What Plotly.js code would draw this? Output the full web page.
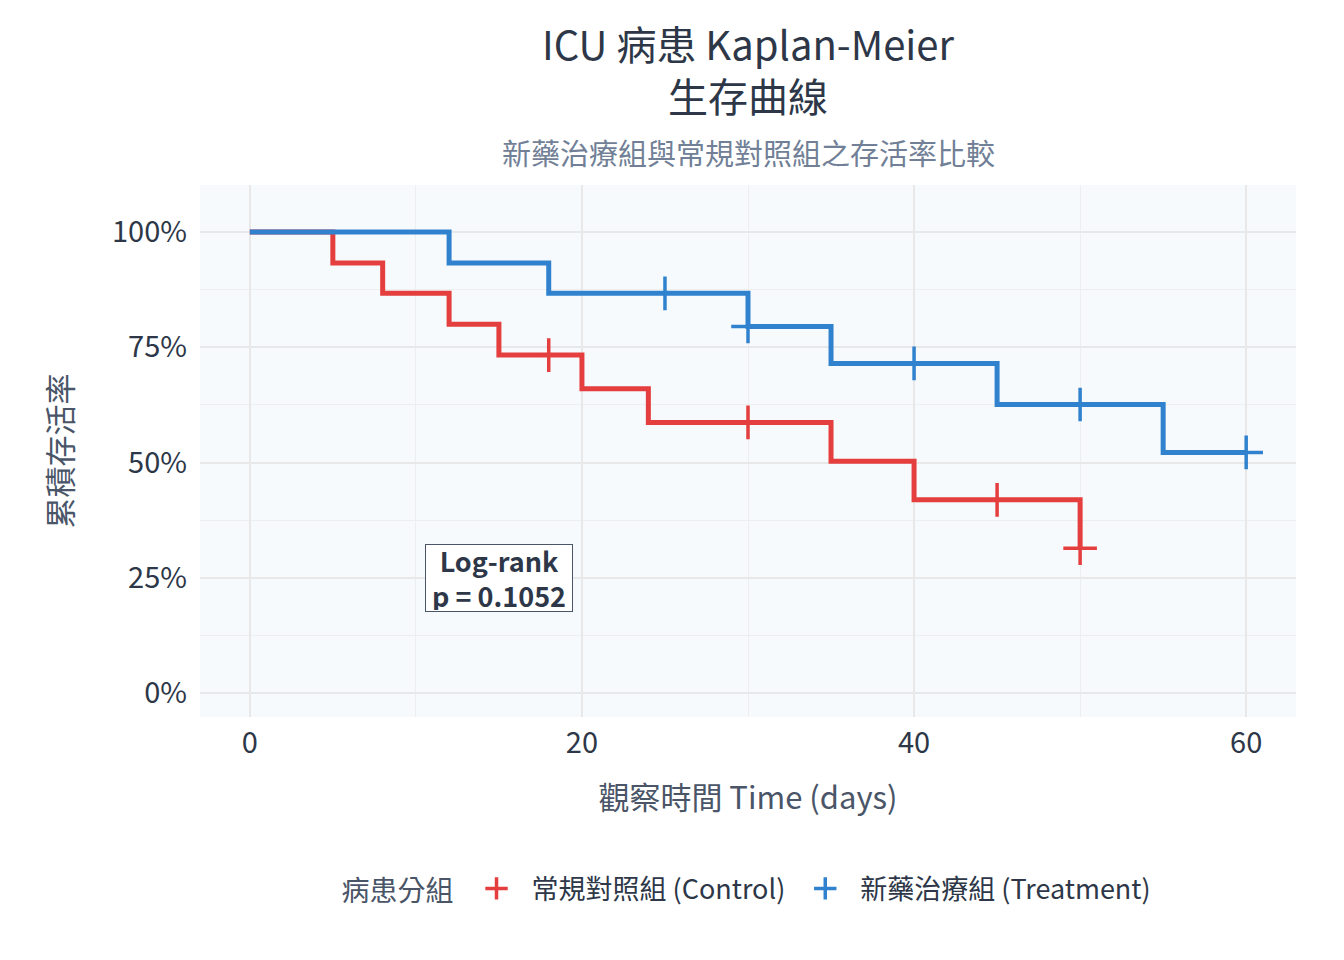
<!DOCTYPE html>
<html>
<head>
<meta charset="utf-8">
<script src="https://cdn.plot.ly/plotly-3.0.1.min.js"></script>
<style>
  html, body { margin: 0; padding: 0; background: #fff; }
  #plot { width: 1344px; height: 960px; }
</style>
</head>
<body>
<div id="plot"></div>
<script>
// Kaplan-Meier step points (days, survival)
var ctrlTime = [0, 5, 8, 12, 15, 20, 24, 35, 40, 50];
var ctrlSurv = [1.0, 0.933, 0.867, 0.800, 0.733, 0.660, 0.587, 0.503, 0.419, 0.314];
var ctrlCensorTime = [18, 30, 45, 50];
var ctrlCensorSurv = [0.733, 0.587, 0.419, 0.314];

var trtTime = [0, 12, 18, 30, 35, 45, 55, 60];
var trtSurv = [1.0, 0.933, 0.867, 0.795, 0.715, 0.626, 0.522, 0.522];
var trtCensorTime = [25, 30, 40, 50, 60];
var trtCensorSurv = [0.867, 0.795, 0.715, 0.626, 0.522];

var groupNames = ['常規對照組 (Control)', '新藥治療組 (Treatment)'];
var groupColors = ['#e53e3e', '#3182ce'];

var FONT = '"Noto Sans CJK TC", "Noto Sans", sans-serif';

function stepTrace(x, y, i) {
  return {
    type: 'scatter', mode: 'lines', x: x, y: y,
    line: {shape: 'hv', color: groupColors[i], width: 5},
    name: groupNames[i], legendgroup: 'g' + i, showlegend: false,
    hoverinfo: 'skip'
  };
}
function censorTrace(x, y, i) {
  return {
    type: 'scatter', mode: 'markers', x: x, y: y,
    marker: {symbol: 'cross-thin', size: 24, color: groupColors[i],
             line: {color: groupColors[i], width: 3.5}},
    name: groupNames[i], legendgroup: 'g' + i, showlegend: true
  };
}

var data = [
  stepTrace(ctrlTime, ctrlSurv, 0),
  censorTrace(ctrlCensorTime, ctrlCensorSurv, 0),
  stepTrace(trtTime, trtSurv, 1),
  censorTrace(trtCensorTime, trtCensorSurv, 1)
];

var layout = {
  width: 1344, height: 960,
  font: {family: FONT, size: 27, color: '#2d3748'},
  paper_bgcolor: '#ffffff',
  plot_bgcolor: '#f7fafc',
  margin: {l: 200, r: 48, t: 185, b: 243},
  title: {
    text: 'ICU 病患 Kaplan-Meier<br>生存曲線',
    font: {family: FONT, size: 40, color: '#2d3748'},
    xref: 'paper', x: 0.5, xanchor: 'center',
    yref: 'container', y: 0.937, yanchor: 'middle'
  },
  xaxis: {
    title: {text: '觀察時間 Time (days)', font: {size: 31, color: '#4a5568'}, standoff: 27},
    range: [-3, 63], tickvals: [0, 20, 40, 60], zeroline: false,
    showgrid: true, gridcolor: '#e8e8e8', gridwidth: 2,
    minor: {tickvals: [10, 30, 50], showgrid: true, gridcolor: '#eeeeee', gridwidth: 1},
    tickfont: {size: 29, color: '#2d3748'}, ticks: '', showline: false,
    ticklabelstandoff: 6
  },
  yaxis: {
    title: {text: '累積存活率', font: {size: 31, color: '#4a5568'}, standoff: 30},
    range: [-0.052, 1.102], tickvals: [0, 0.25, 0.5, 0.75, 1], tickformat: '.0%',
    zeroline: false, showgrid: true, gridcolor: '#e8e8e8', gridwidth: 2,
    minor: {tickvals: [0.125, 0.375, 0.625, 0.875], showgrid: true, gridcolor: '#eeeeee', gridwidth: 1},
    tickfont: {size: 29, color: '#2d3748'}, ticks: '', showline: false,
    ticklabelstandoff: 12
  },
  legend: {
    orientation: 'h', x: 0.5, xanchor: 'center', y: -0.323, yanchor: 'middle',
    title: {text: '病患分組', font: {size: 28, color: '#4a5568'}},
    font: {size: 27, color: '#2d3748'}, itemwidth: 60
  },
  annotations: [{
    x: 0.5, y: 1.062, xref: 'paper', yref: 'paper',
    text: '新藥治療組與常規對照組之存活率比較',
    showarrow: false, xanchor: 'center', yanchor: 'middle',
    font: {size: 29, color: '#718096'}
  }, {
    x: 15, y: 0.25, xref: 'x', yref: 'y',
    text: '<b>Log-rank<br>p = 0.1052</b>',
    showarrow: false, font: {size: 27, color: '#2d3748'},
    width: 144, height: 64,
    bgcolor: '#ffffff', bordercolor: '#4a5568', borderwidth: 1, borderpad: 1
  }]
};

Plotly.newPlot('plot', data, layout, {displayModeBar: false});
</script>
</body>
</html>
